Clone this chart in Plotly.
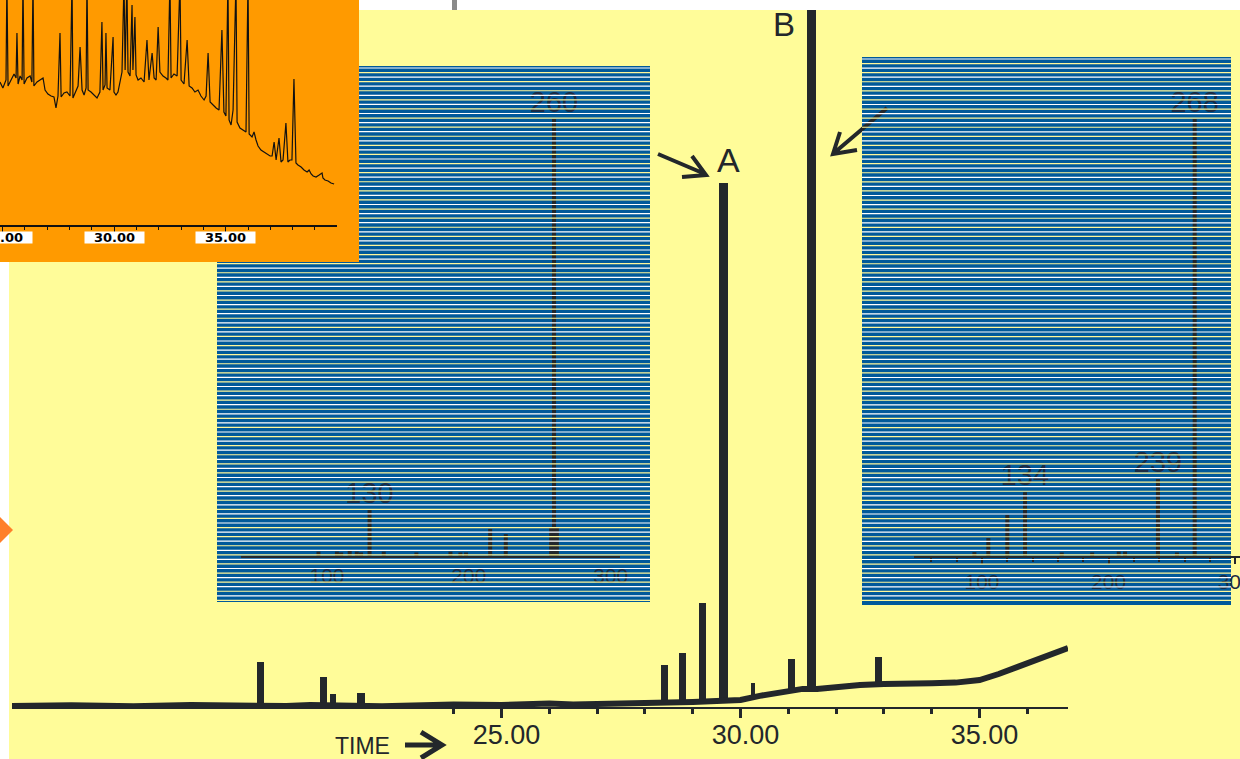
import plotly.graph_objects as go

W, H = 1240, 759

# ---------------- data ----------------
# Main chromatogram: retention time (min) and abundance (% of plot height)
baseline_time = [14.76, 16.0, 17.3, 18.5, 20.5, 21.0, 22.5, 23.0, 24.0, 25.0, 26.0, 26.5, 27.5,
                 28.3, 29.0, 29.5, 30.0, 30.4, 30.8, 31.3, 31.6, 32.0, 32.5, 33.0, 33.5, 34.0,
                 34.5, 35.0, 35.4, 35.8, 36.2, 36.5, 36.85]
baseline_abund = [0.14, 0.25, 0.1, 0.3, 0.14, 0.3, 0.1, 0.22, 0.35, 0.29, 0.5, 0.36, 0.43,
                  0.57, 0.72, 0.86, 1.0, 1.6, 2.0, 2.6, 2.6, 2.9, 3.16, 3.3, 3.44, 3.4,
                  3.5, 3.87, 4.73, 5.74, 6.74, 7.46, 8.46]
peak_time = [19.95, 21.27, 21.48, 22.06, 28.41, 28.78, 29.20, 29.64, 30.26, 31.06, 31.48, 32.88]
peak_top = [6.46, 4.3, 1.8, 2.05, 6.03, 7.75, 14.92, 75.2, 3.44, 6.89, 110.0, 7.17]
peak_foot = [0.14, 0.14, 0.14, 0.14, 0.57, 0.72, 0.86, 1.0, 1.6, 2.15, 2.73, 3.3]
peak_width = [0.15, 0.15, 0.12, 0.15, 0.15, 0.15, 0.15, 0.19, 0.07, 0.15, 0.20, 0.15]
main_tick_times = [25, 30, 35]
main_minor_times = [24, 26, 27, 28, 29, 31, 32, 33, 34, 36]

# Inset chromatogram (orange box)
inset_time = [24.88, 25.01, 25.15, 25.19, 25.24, 25.37, 25.51, 25.60, 25.64, 25.69, 25.78, 25.87,
              25.91, 25.96, 26.09, 26.23, 26.31, 26.36, 26.40, 26.54, 26.67, 26.81, 26.90, 27.03,
              27.17, 27.30, 27.39, 27.48, 27.57, 27.62, 27.75, 27.88, 28.02, 28.11, 28.15, 28.29,
              28.38, 28.47, 28.56, 28.65, 28.74, 28.78, 28.83, 28.96, 29.10, 29.23, 29.36, 29.45,
              29.50, 29.59, 29.63, 29.68, 29.81, 29.95, 29.99, 30.08, 30.17, 30.26, 30.35, 30.44,
              30.49, 30.57, 30.62, 30.71, 30.80, 30.84, 30.93, 30.98, 31.07, 31.20, 31.34, 31.47,
              31.56, 31.70, 31.79, 31.88, 31.97, 32.05, 32.19, 32.32, 32.41, 32.50, 32.55, 32.68,
              32.82, 32.95, 33.00, 33.13, 33.27, 33.36, 33.49, 33.62, 33.76, 33.89, 34.03, 34.12,
              34.21, 34.30, 34.43, 34.57, 34.70, 34.83, 34.92, 35.01, 35.10, 35.15, 35.24, 35.33,
              35.46, 35.51, 35.64, 35.78, 35.91, 36.00, 36.05, 36.18, 36.27, 36.36, 36.45, 36.58,
              36.72, 36.85, 36.99, 37.08, 37.17, 37.26, 37.39, 37.48, 37.57, 37.70, 37.79, 37.88,
              37.97, 38.06, 38.15, 38.24, 38.38, 38.51, 38.65, 38.74, 38.83, 38.92, 39.05, 39.19,
              39.32, 39.36, 39.45, 39.59, 39.72, 39.86, 39.99]
inset_signal = [143, 137, 145, 245, 139, 145, 151, 147, 192, 141, 149, 145,
                245, 141, 147, 149, 143, 245, 139, 143, 145, 147, 135, 131,
                129, 128, 117, 129, 192, 128, 132, 133, 129, 245, 127, 135,
                139, 178, 135, 130, 137, 245, 135, 133, 130, 127, 133, 203,
                135, 140, 192, 137, 135, 188, 133, 130, 133, 145, 153, 245,
                155, 245, 153, 149, 220, 155, 208, 150, 145, 147, 143, 185,
                145, 172, 147, 145, 198, 153, 149, 147, 145, 245, 147, 151,
                149, 245, 145, 141, 185, 139, 137, 133, 135, 129, 125, 129,
                172, 123, 120, 117, 115, 195, 113, 109, 245, 105, 100, 115,
                245, 103, 97, 95, 93, 245, 91, 88, 93, 85, 79, 75,
                73, 71, 69, 69, 83, 65, 87, 63, 65, 102, 63, 65,
                65, 146, 62, 60, 58, 55, 53, 55, 51, 49, 48,
                50, 52, 47, 45, 44, 42, 41]
inset_tick_times = [25, 30, 35]

# Mass spectrum of peak A
left_mz = [94, 107, 110, 116, 121, 124, 130, 140, 163, 187, 194, 198, 215, 226, 258, 260, 262]
left_int = [1.0, 1.0, 0.8, 1.2, 1.0, 0.8, 10.5, 1.0, 0.8, 1.0, 0.8, 0.8, 6.2, 5.0, 6.6, 100, 6.6]
left_labels = [130, 260]

# Mass spectrum of peak B
right_mz = [94, 105, 120, 134, 163, 187, 208, 213, 239, 254, 268]
right_int = [0.9, 4.1, 9.4, 14.6, 0.8, 0.8, 1.0, 1.0, 17.6, 0.8, 100]
right_labels = [134, 239, 268]

mz_ticks = [100, 200, 300]

# ---------------- styling helpers ----------------
DARK = "#23272b"
NAVY = "#1b2a44"
BLUE = "#00599a"
YELLOW = "#fffc99"
ORANGE = "#ff9a00"


def X(px):
    return px / W


def Y(py):
    return 1 - py / H


def pth(points_groups):
    s = ""
    for grp in points_groups:
        s += "M" + "L".join(f"{X(a):.5f},{Y(b):.5f}" for a, b in grp)
    return s


def sticks(mz, inten):
    xs, ys = [], []
    for m, v in zip(mz, inten):
        xs += [m, m, None]
        ys += [0, v, None]
    return xs, ys


fig = go.Figure()

# main chromatogram
fig.add_trace(go.Scatter(x=baseline_time, y=baseline_abund, mode="lines",
                         line=dict(color=DARK, width=6), xaxis="x", yaxis="y", hoverinfo="skip"))
fig.add_trace(go.Bar(x=peak_time, y=[t - f for t, f in zip(peak_top, peak_foot)], base=peak_foot,
                     width=peak_width, marker=dict(color=DARK, line=dict(width=0)),
                     xaxis="x", yaxis="y", hoverinfo="skip"))

# inset chromatogram
fig.add_trace(go.Scatter(x=inset_time, y=inset_signal, mode="lines",
                         line=dict(color="#111111", width=1.2), xaxis="x2", yaxis="y2", hoverinfo="skip"))

# left spectrum
lx, ly = sticks(left_mz, left_int)
fig.add_trace(go.Scatter(x=lx, y=ly, mode="lines", line=dict(color=DARK, width=4),
                         xaxis="x3", yaxis="y3", hoverinfo="skip"))
fig.add_trace(go.Scatter(x=left_labels, y=[left_int[left_mz.index(m)] for m in left_labels],
                         mode="text", text=[str(m) for m in left_labels], textposition="top center",
                         textfont=dict(family="Liberation Sans, Arial", size=29, color=NAVY),
                         cliponaxis=False, xaxis="x3", yaxis="y3", hoverinfo="skip"))

# right spectrum
rx, ry = sticks(right_mz, right_int)
fig.add_trace(go.Scatter(x=rx, y=ry, mode="lines", line=dict(color=DARK, width=4),
                         xaxis="x4", yaxis="y4", hoverinfo="skip"))
fig.add_trace(go.Scatter(x=right_labels, y=[right_int[right_mz.index(m)] for m in right_labels],
                         mode="text", text=[str(m) for m in right_labels], textposition="top center",
                         textfont=dict(family="Liberation Sans, Arial", size=29, color=NAVY),
                         cliponaxis=False, xaxis="x4", yaxis="y4", hoverinfo="skip"))

# m/z captions
fig.add_trace(go.Scatter(x=[65], y=[-7.5], mode="text", text=["m/z →"],
                         textfont=dict(family="Liberation Sans, Arial", size=13, color=NAVY),
                         cliponaxis=False, xaxis="x3", yaxis="y3", hoverinfo="skip"))
fig.add_trace(go.Scatter(x=[68], y=[-7.5], mode="text", text=["m/z →"],
                         textfont=dict(family="Liberation Sans, Arial", size=13, color=NAVY),
                         cliponaxis=False, xaxis="x4", yaxis="y4", hoverinfo="skip"))

shapes = [
    dict(type="rect", xref="paper", yref="paper", x0=X(9), x1=1, y0=0, y1=Y(10),
         fillcolor=YELLOW, line=dict(width=0), layer="below"),
    dict(type="rect", xref="paper", yref="paper", x0=X(217), x1=X(650), y0=Y(602), y1=Y(66),
         fillcolor=BLUE, line=dict(width=0), layer="below"),
    dict(type="rect", xref="paper", yref="paper", x0=X(862), x1=X(1231), y0=Y(605), y1=Y(57),
         fillcolor=BLUE, line=dict(width=0), layer="below"),
    dict(type="rect", xref="paper", yref="paper", x0=0, x1=X(359), y0=Y(262), y1=1,
         fillcolor=ORANGE, line=dict(width=0), layer="below"),
    dict(type="path", xref="paper", yref="paper",
         path=pth([[(0, 517), (13, 530), (0, 543)]]) + "Z",
         fillcolor="#ff7f2a", line=dict(width=0), layer="below"),
    dict(type="rect", xref="paper", yref="paper", x0=X(452), x1=X(457), y0=Y(10), y1=1,
         fillcolor="#8a8a8a", line=dict(width=0), layer="below"),
    # arrows
    dict(type="path", xref="paper", yref="paper",
         path=pth([[(658, 154), (705, 174)], [(692, 156), (706, 175), (682, 177)]]),
         line=dict(color=DARK, width=4), layer="above"),
    dict(type="path", xref="paper", yref="paper",
         path=pth([[(887, 108), (834, 153)], [(840, 132), (833, 154), (857, 150)]]),
         line=dict(color=DARK, width=4), layer="above"),
    dict(type="path", xref="paper", yref="paper",
         path=pth([[(405, 745), (440, 745)], [(421, 732), (442, 745), (421, 758)]]),
         line=dict(color=DARK, width=5), layer="above"),
]


def stripes(x0, x1, y0, y1, clip=None):
    groups = {"#ffffff": [], "#fff79a": []}
    cols = list(groups)
    y = y0 + 2.0
    k = 0
    while y < y1 - 0.5:
        xs = x0
        if clip is not None and y < clip[1]:
            xs = clip[0]
        groups[cols[k % 2]].append([(xs, y), (x1, y)])
        y += 4.55
        k += 1
    return [dict(type="path", xref="paper", yref="paper", path=pth(g),
                 line=dict(color=c, width=1.2), layer="above") for c, g in groups.items()]


shapes += stripes(217, 650, 66, 602, clip=(359, 262))
shapes += stripes(862, 1231, 57, 605)

annotations = [
    dict(text="A", x=X(728.5), y=Y(160), xref="paper", yref="paper", showarrow=False,
         xanchor="center", yanchor="middle",
         font=dict(family="Liberation Sans, Arial", size=34, color=DARK)),
    dict(text="B", x=X(783.5), y=Y(25), xref="paper", yref="paper", showarrow=False,
         xanchor="center", yanchor="middle",
         font=dict(family="Liberation Sans, Arial", size=33, color=DARK)),
    dict(text="TIME", x=X(362), y=Y(746), xref="paper", yref="paper", showarrow=False,
         xanchor="center", yanchor="middle",
         font=dict(family="Liberation Sans, Arial", size=23, color=DARK)),
]
for t in inset_tick_times:
    annotations.append(dict(text=f"<b>{t:.2f}</b>", x=t, xref="x2", y=Y(237.5), yref="paper",
                            showarrow=False, xanchor="center", yanchor="middle",
                            bgcolor="white", width=59, height=11, borderpad=0,
                            font=dict(family="DejaVu Sans", size=13, color="black")))

tickfont_main = dict(family="Liberation Sans, Arial", size=27, color=DARK)
tickfont_ms = dict(family="Liberation Sans, Arial", size=21, color=NAVY)

fig.update_layout(
    width=W, height=H, margin=dict(l=0, r=0, t=0, b=0),
    paper_bgcolor="white", plot_bgcolor="rgba(0,0,0,0)", showlegend=False,
    bargap=0,
    xaxis=dict(domain=[X(12), X(1068)], range=[14.76, 36.85], anchor="y",
               showline=True, linecolor=DARK, linewidth=2, showgrid=False, zeroline=False,
               tickvals=main_tick_times, tickformat=".2f", ticks="outside", ticklen=9,
               tickwidth=2.5, tickcolor=DARK, tickfont=tickfont_main, automargin=False,
               ticklabelshift=5, ticklabelstandoff=-6,
               minor=dict(tickvals=main_minor_times, ticks="outside", ticklen=5,
                          tickwidth=2.5, tickcolor=DARK)),
    yaxis=dict(domain=[Y(707), Y(10)], range=[0, 100], visible=False, anchor="x"),
    xaxis2=dict(domain=[0, X(337)], range=[24.88, 39.99], anchor="y2",
                showline=True, linecolor="#111111", linewidth=1.5, showgrid=False, zeroline=False,
                tickvals=inset_tick_times, ticks="outside", ticklen=5, tickwidth=1,
                tickcolor="#111111", showticklabels=False, automargin=False,
                minor=dict(dtick=1, tick0=0, ticks="outside", ticklen=3, tickwidth=1,
                           tickcolor="#111111")),
    yaxis2=dict(domain=[Y(225), 1], range=[0, 225], visible=False, anchor="x2"),
    xaxis3=dict(domain=[X(241), X(620)], range=[39.4, 306.5], anchor="y3",
                showline=True, linecolor=DARK, linewidth=2, showgrid=False, zeroline=False,
                tickvals=mz_ticks, ticks="", tickfont=tickfont_ms, automargin=False,
                ticklabeloverflow="allow"),
    yaxis3=dict(domain=[Y(556), Y(66)], range=[0, 112.1], visible=False, anchor="x3"),
    xaxis4=dict(domain=[X(914), 1], range=[46.3, 303.8], anchor="y4",
                showline=True, linecolor=DARK, linewidth=2, showgrid=False, zeroline=False,
                tickvals=mz_ticks, ticks="outside", ticklen=6, tickwidth=2, tickcolor=DARK,
                tickfont=tickfont_ms, automargin=False, ticklabeloverflow="allow",
                minor=dict(dtick=20, tick0=0, ticks="outside", ticklen=4, tickwidth=1.5,
                           tickcolor=DARK)),
    yaxis4=dict(domain=[Y(556), Y(57)], range=[0, 114.2], visible=False, anchor="x4"),
    shapes=shapes,
    annotations=annotations,
)

fig.write_html("out.html", config={"displayModeBar": False},
               post_script="document.body.style.margin='0';document.body.style.overflow='hidden';")
